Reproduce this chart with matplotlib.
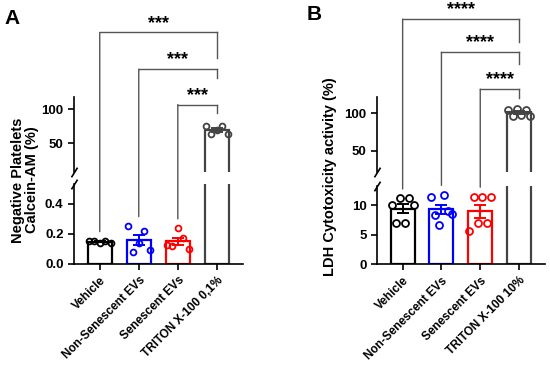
import matplotlib as mpl
mpl.use("Agg")
import matplotlib.pyplot as plt
from matplotlib.patches import ConnectionPatch
import numpy as np

plt.rcParams['font.family'] = ['Liberation Sans', 'DejaVu Sans']
plt.rcParams['font.weight'] = 'bold'
plt.rcParams['axes.labelweight'] = 'bold'

# ---- data ----
groups_a = ["Vehicle", "Non-Senescent EVs", "Senescent EVs", "TRITON X-100 0,1%"]
vehicle_a = [0.15, 0.15, 0.14, 0.15, 0.14]
nonsen_a = [0.25, 0.08, 0.14, 0.22, 0.09]
sen_a = [0.125, 0.12, 0.235, 0.17, 0.10]
triton_a = [76, 64, 70, 75, 63]

groups_b = ["Vehicle", "Non-Senescent EVs", "Senescent EVs", "TRITON X-100 10%"]
vehicle_b = [10.1, 7.1, 11.2, 7.1, 11.2, 10.1]
nonsen_b = [11.5, 8.4, 6.7, 11.8, 9.0, 8.5]
sen_b = [5.6, 11.4, 7.0, 11.5, 7.0, 11.4]
triton_b = [105, 97, 106, 98, 105, 97]

colors = ["black", "#0000ff", "#ff0000", "#444444"]
stars_a = "***"
stars_b = "****"

fig = plt.figure(figsize=(5.5, 3.77), dpi=100)


def panel(left, width, lo_box, up_box, lo_lim, up_lim, series, labels,
          lo_ticks, up_ticks, lo_fmt, bracket_y, triton_leg_end, stars, ylabel, ylab_pos, ms):
    ax_lo = fig.add_axes([left, lo_box[0], width, lo_box[1]])
    ax_up = fig.add_axes([left, up_box[0], width, up_box[1]])
    x = np.arange(len(series))
    for ax in (ax_lo, ax_up):
        for i, vals in enumerate(series):
            vals = np.asarray(vals, dtype=float)
            m = vals.mean()
            if ax is ax_up and m < up_lim[0]:
                continue
            sem = vals.std(ddof=1) / np.sqrt(len(vals))
            ax.bar(i, m, width=0.62, facecolor="none", edgecolor=colors[i], linewidth=1.6, zorder=2)
            ax.errorbar(i, m, yerr=sem, color=colors[i], capsize=4, elinewidth=1.4,
                        capthick=1.4, zorder=3)
            offs = np.linspace(-0.28, 0.28, len(vals))
            ax.plot(i + offs, vals, "o", mfc="none", mec=colors[i], mew=1.3, ms=ms,
                    zorder=4, clip_on=True)
        ax.set_xlim(-0.66, 3.67)
        for s in ("top", "right"):
            ax.spines[s].set_visible(False)
        for s in ("left", "bottom"):
            ax.spines[s].set_linewidth(1.2)
        ax.tick_params(width=1.2, length=4, labelsize=9.5)
    ax_lo.set_ylim(*lo_lim)
    ax_up.set_ylim(*up_lim)
    ax_lo.set_yticks(lo_ticks)
    ax_lo.set_yticklabels([lo_fmt.format(v) for v in lo_ticks], fontweight="bold")
    ax_up.set_yticks(up_ticks)
    ax_up.set_yticklabels([str(v) for v in up_ticks], fontweight="bold")
    ax_up.spines["bottom"].set_visible(False)
    ax_up.set_xticks([])
    ax_lo.set_xticks(x)
    ax_lo.set_xticklabels(labels, rotation=45, ha="right", rotation_mode="anchor",
                          fontsize=8.5, fontweight="bold")

    # axis break marks
    kw = dict(marker=[(-1, -1.6), (1, 1.6)], markersize=7, color="k", mew=1.2,
              linestyle="none", clip_on=False)
    ax_up.plot([0], [0], transform=ax_up.transAxes, **kw)
    ax_lo.plot([0], [1], transform=ax_lo.transAxes, **kw)

    # significance brackets: each left group against the last one
    last = len(series) - 1
    gap = 0.12 * lo_lim[1]
    for i, (yb, yend) in enumerate(zip(bracket_y, triton_leg_end)):
        ax_up.plot([i, last], [yb, yb], color="#555555", lw=1.0, clip_on=False, zorder=5)
        ax_up.plot([last, last], [yb, yend], color="#555555", lw=1.0, clip_on=False, zorder=5)
        leg_end = max(series[i]) + gap
        con = ConnectionPatch(xyA=(i, yb), coordsA=ax_up.transData,
                              xyB=(i, leg_end), coordsB=ax_lo.transData,
                              color="#555555", lw=1.0, zorder=5)
        fig.add_artist(con)
        ax_up.annotate(stars, xy=((i + last) / 2, yb), xytext=(0, 0.5),
                       textcoords="offset points", ha="center", va="bottom",
                       fontsize=13, fontweight="bold", annotation_clip=False)
    fig.text(ylab_pos[0], ylab_pos[1], ylabel, rotation=90, ha="center", va="center",
             fontsize=10.5, fontweight="bold", linespacing=1.0)
    return ax_lo, ax_up


panel(0.1345, 0.3073, (0.3005, 0.2114), (0.5438, 0.1989), (0, 0.531), (7.8, 118.1),
      [vehicle_a, nonsen_a, sen_a, triton_a], groups_a, [0.0, 0.2, 0.4], [50, 100], "{:.1f}",
      [213, 159, 107], [175, 146, 94], stars_a,
      "Negative Platelets\nCalcein-AM (%)", (0.045, 0.5225), 4.2)

panel(0.6855, 0.3055, (0.2989, 0.2077), (0.5438, 0.1997), (0, 13.3), (22.1, 122),
      [vehicle_b, nonsen_b, sen_b, triton_b], groups_b, [0, 5, 10], [50, 100], "{:d}",
      [225, 181, 132], [194, 166, 120], stars_b,
      "LDH Cytotoxicity activity (%)", (0.6, 0.531), 5.0)

fig.text(0.022, 0.95, "A", fontsize=15, fontweight="bold", ha="center", va="center")
fig.text(0.572, 0.961, "B", fontsize=15, fontweight="bold", ha="center", va="center")

fig.savefig("out.png", dpi=100)
